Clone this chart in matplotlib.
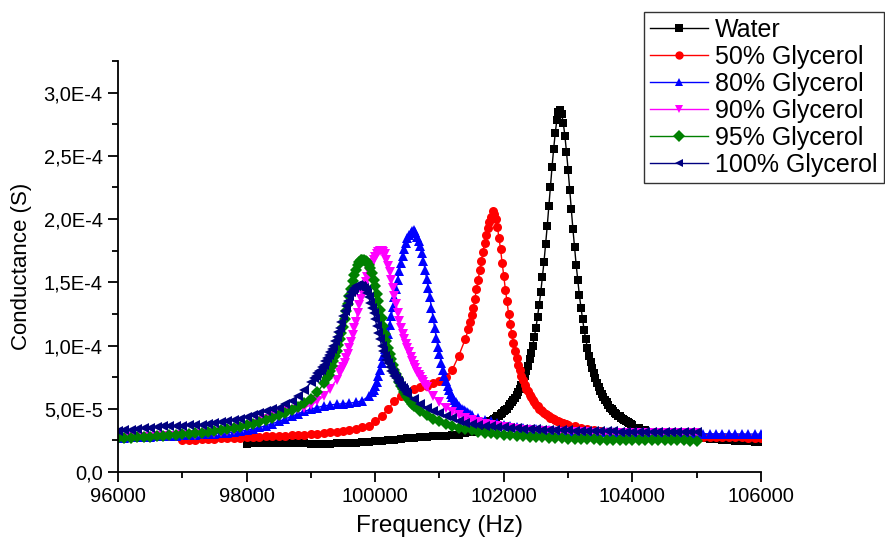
import numpy as np
import matplotlib
matplotlib.use("Agg")
import matplotlib.pyplot as plt
from matplotlib.ticker import MultipleLocator, FuncFormatter
from matplotlib.lines import Line2D

# ---------------- data (conductance in units of 1E-4 S) ----------------
# Water
water_f = np.concatenate([np.arange(98000, 101701, 100),
                          np.arange(101750, 104001, 25),
                          np.arange(104100, 106001, 100)])
water_g = [0.225, 0.228, 0.230, 0.232, 0.233, 0.233, 0.232, 0.230, 0.228, 0.226,
           0.225, 0.224, 0.224, 0.225, 0.226, 0.228, 0.230, 0.233, 0.236, 0.240,
           0.244, 0.248, 0.252, 0.257, 0.262, 0.267, 0.272, 0.276, 0.279, 0.281,
           0.283, 0.286, 0.290, 0.296, 0.305, 0.318, 0.335, 0.360,
           0.39, 0.40, 0.405, 0.413, 0.42, 0.428, 0.44, 0.446, 0.455, 0.466,
           0.48, 0.49, 0.50, 0.518, 0.535, 0.551, 0.57, 0.589, 0.61, 0.635,
           0.66, 0.691, 0.72, 0.759, 0.80, 0.841, 0.89, 0.944, 1.00, 1.07,
           1.14, 1.228, 1.32, 1.422, 1.54, 1.661, 1.80, 1.942, 2.10, 2.252,
           2.41, 2.554, 2.68, 2.784, 2.85, 2.86, 2.83, 2.76, 2.66, 2.53,
           2.39, 2.23, 2.08, 1.92, 1.78, 1.64, 1.52, 1.40, 1.30, 1.21,
           1.12, 1.05, 0.98, 0.92, 0.87, 0.82, 0.78, 0.74, 0.70, 0.67,
           0.64, 0.615, 0.59, 0.57, 0.55, 0.53, 0.51, 0.50, 0.48, 0.47,
           0.46, 0.446, 0.44, 0.426, 0.42, 0.408, 0.40, 0.393, 0.39, 0.379,
           0.37,
           0.35, 0.335, 0.32, 0.31, 0.30, 0.29, 0.286, 0.28, 0.276, 0.27,
           0.265, 0.26, 0.258, 0.255, 0.25, 0.248, 0.245, 0.243, 0.24, 0.24]

# 50% Glycerol
g50_f = np.concatenate([np.arange(97000, 101401, 100),
                        np.arange(101450, 103001, 25),
                        np.arange(103100, 106001, 100)])
g50_g = [0.250, 0.252, 0.255, 0.258, 0.260, 0.262, 0.265, 0.267, 0.270, 0.272,
         0.275, 0.277, 0.280, 0.282, 0.284, 0.286, 0.288, 0.290, 0.293, 0.296,
         0.300, 0.304, 0.308, 0.313, 0.318, 0.325, 0.333, 0.342, 0.352, 0.365,
         0.40, 0.44, 0.50, 0.56, 0.60, 0.63, 0.66, 0.67, 0.68, 0.70,
         0.72, 0.75, 0.81, 0.92, 1.05,
         1.13, 1.185, 1.24, 1.30, 1.37, 1.445, 1.52, 1.595, 1.67, 1.74,
         1.81, 1.875, 1.93, 1.98, 2.02, 2.06,
         2.04, 2.00, 1.94, 1.85, 1.76, 1.65, 1.55, 1.44, 1.35, 1.25,
         1.17, 1.09, 1.02, 0.96, 0.90, 0.85, 0.81, 0.76, 0.73, 0.69,
         0.66, 0.64, 0.61, 0.59, 0.57, 0.55, 0.53, 0.52, 0.50, 0.49,
         0.48, 0.47, 0.46, 0.45, 0.44, 0.43, 0.425, 0.418, 0.41, 0.405,
         0.40, 0.394, 0.39, 0.385, 0.38, 0.376, 0.37,
         0.36, 0.345, 0.34, 0.33, 0.325, 0.32, 0.315, 0.31, 0.307, 0.303,
         0.30, 0.298, 0.295, 0.293, 0.29, 0.288, 0.286, 0.284, 0.282, 0.28,
         0.279, 0.278, 0.277, 0.276, 0.275, 0.274, 0.273, 0.272, 0.271, 0.27]

# 80% Glycerol
g80_f = np.concatenate([np.arange(96000, 99901, 100),
                        np.arange(99950, 101501, 25),
                        np.arange(101600, 106001, 100)])
g80_g = [0.270, 0.272, 0.274, 0.276, 0.278, 0.280, 0.282, 0.284, 0.286, 0.288,
         0.290, 0.292, 0.295, 0.298, 0.300, 0.303, 0.307, 0.311, 0.316, 0.322,
         0.330, 0.340, 0.352, 0.366, 0.382, 0.400, 0.420, 0.440, 0.460, 0.480,
         0.497, 0.510, 0.522, 0.530, 0.536, 0.540, 0.545, 0.550, 0.565, 0.600,
         0.63, 0.65, 0.68, 0.715, 0.76, 0.81, 0.86, 0.915, 0.97, 1.03,
         1.09, 1.16, 1.23, 1.305, 1.38, 1.45, 1.52, 1.59, 1.65, 1.71,
         1.76, 1.81, 1.85, 1.875, 1.89, 1.905, 1.91, 1.895, 1.86, 1.83,
         1.79, 1.735, 1.67, 1.60, 1.53, 1.455, 1.38, 1.30, 1.22, 1.14,
         1.06, 0.99, 0.93, 0.865, 0.81, 0.76, 0.72, 0.68, 0.645, 0.615,
         0.59, 0.568, 0.55, 0.535, 0.52, 0.51, 0.50, 0.49, 0.48, 0.472,
         0.465, 0.457, 0.45,
         0.43, 0.415, 0.40, 0.385,
         0.375, 0.365, 0.355, 0.348, 0.342, 0.337, 0.333, 0.330, 0.327, 0.324,
         0.322, 0.320, 0.318, 0.317, 0.316, 0.315, 0.314, 0.313, 0.312, 0.311,
         0.310, 0.309, 0.308, 0.307, 0.306, 0.306, 0.305, 0.305, 0.304, 0.304,
         0.303, 0.303, 0.302, 0.302, 0.302, 0.301, 0.301, 0.301, 0.300, 0.300,
         0.300]

# 90% Glycerol
g90_f = np.concatenate([np.arange(96000, 99401, 100),
                        np.arange(99450, 100801, 25),
                        np.arange(100900, 105001, 100)])
g90_g = [0.270, 0.272, 0.274, 0.276, 0.278, 0.280, 0.281, 0.283, 0.285, 0.287,
         0.290, 0.293, 0.296, 0.300, 0.305, 0.310, 0.316, 0.323, 0.330, 0.345,
         0.360, 0.380, 0.400, 0.420, 0.440, 0.460, 0.480, 0.490, 0.500, 0.510,
         0.530, 0.560, 0.600, 0.660, 0.730,
         0.78, 0.805, 0.83, 0.862, 0.90, 0.937, 0.98, 1.03, 1.08, 1.135,
         1.19, 1.255, 1.32, 1.37, 1.42, 1.46, 1.50, 1.54, 1.58, 1.617,
         1.65, 1.678, 1.70, 1.722, 1.74, 1.748, 1.75, 1.74, 1.72, 1.68,
         1.63, 1.578, 1.52, 1.455, 1.39, 1.325, 1.26, 1.198, 1.14, 1.093,
         1.05, 1.013, 0.98, 0.945, 0.91, 0.88, 0.85, 0.82, 0.79, 0.77,
         0.75, 0.73, 0.71, 0.69, 0.67,
         0.60,
         0.55, 0.51, 0.475, 0.45, 0.43, 0.41, 0.395, 0.38, 0.37, 0.36,
         0.352, 0.345, 0.340, 0.335, 0.331, 0.328, 0.325, 0.322, 0.320, 0.318,
         0.316, 0.315, 0.314, 0.313, 0.312, 0.311, 0.310, 0.310, 0.309, 0.309,
         0.308, 0.308, 0.307, 0.307, 0.306, 0.306, 0.306, 0.305, 0.305, 0.305,
         0.305]

# 95% Glycerol
g95_f = np.concatenate([np.arange(96000, 99201, 100),
                        np.arange(99250, 100601, 25),
                        np.arange(100700, 105001, 100)])
g95_g = [0.265, 0.268, 0.271, 0.274, 0.277, 0.280, 0.284, 0.288, 0.292, 0.296,
         0.300, 0.304, 0.308, 0.312, 0.317, 0.323, 0.330, 0.338, 0.347, 0.357,
         0.368, 0.380, 0.395, 0.410, 0.430, 0.450, 0.470, 0.490, 0.515, 0.545,
         0.580, 0.630, 0.700,
         0.74, 0.77, 0.80, 0.84, 0.88, 0.92, 0.96, 1.005, 1.05, 1.10,
         1.15, 1.21, 1.27, 1.33, 1.39, 1.45, 1.51, 1.56, 1.60, 1.635,
         1.66, 1.675, 1.68, 1.68, 1.67, 1.66, 1.64, 1.61, 1.57, 1.52,
         1.47, 1.41, 1.35, 1.285, 1.22, 1.155, 1.09, 1.035, 0.98, 0.932,
         0.89, 0.848, 0.81, 0.775, 0.74, 0.71, 0.68, 0.655, 0.63, 0.61,
         0.59, 0.572, 0.555, 0.54, 0.525,
         0.48, 0.45, 0.42,
         0.40, 0.38, 0.365, 0.35, 0.34, 0.33, 0.32, 0.312, 0.305, 0.30,
         0.295, 0.29, 0.286, 0.282, 0.279, 0.276, 0.273, 0.27, 0.268, 0.266,
         0.264, 0.262, 0.26, 0.259, 0.258, 0.257, 0.256, 0.255, 0.254, 0.253,
         0.253, 0.252, 0.252, 0.251, 0.251, 0.25, 0.25, 0.25, 0.25, 0.249,
         0.249]

# 100% Glycerol
g100_f = np.concatenate([np.arange(96000, 99001, 100),
                         np.arange(99050, 100501, 25),
                         np.arange(100600, 105001, 100)])
g100_g = [0.325, 0.330, 0.335, 0.340, 0.345, 0.350, 0.355, 0.360, 0.363, 0.365,
          0.367, 0.369, 0.371, 0.374, 0.378, 0.384, 0.392, 0.400, 0.410, 0.420,
          0.435, 0.450, 0.465, 0.480, 0.495, 0.510, 0.535, 0.565, 0.600, 0.645,
          0.710,
          0.74, 0.76, 0.78, 0.795, 0.81, 0.83, 0.85, 0.875, 0.90, 0.925,
          0.95, 0.975, 1.00, 1.035, 1.07, 1.105, 1.14, 1.185, 1.23, 1.27,
          1.31, 1.35, 1.39, 1.42, 1.44, 1.458, 1.47, 1.475, 1.47, 1.468,
          1.46, 1.452, 1.44, 1.415, 1.38, 1.34, 1.30, 1.255, 1.21, 1.155,
          1.10, 1.05, 1.00, 0.958, 0.92, 0.888, 0.86, 0.83, 0.80, 0.78,
          0.76, 0.74, 0.72, 0.70, 0.68, 0.665, 0.65, 0.635, 0.62,
          0.575, 0.54, 0.51, 0.485,
          0.465, 0.445, 0.425, 0.405, 0.39, 0.38, 0.372, 0.366, 0.36, 0.356,
          0.352, 0.349, 0.346, 0.343, 0.34, 0.338, 0.336, 0.334, 0.332, 0.33,
          0.329, 0.328, 0.326, 0.325, 0.324, 0.323, 0.322, 0.321, 0.32, 0.319,
          0.318, 0.318, 0.317, 0.316, 0.316, 0.315, 0.315, 0.314, 0.314, 0.313,
          0.313]

labels = ["Water", "50% Glycerol", "80% Glycerol", "90% Glycerol",
          "95% Glycerol", "100% Glycerol"]
series_f = [water_f, g50_f, g80_f, g90_f, g95_f, g100_f]
series_g = [water_g, g50_g, g80_g, g90_g, g95_g, g100_g]
colors = ["#000000", "#FF0000", "#0000FF", "#FF00FF", "#008000", "#000080"]
markers = ["s", "o", "^", "v", "D", "<"]
msizes = [5.5, 6.5, 7.0, 7.0, 6.0, 7.0]

x_ticks = [96000, 98000, 100000, 102000, 104000, 106000]

# ---------------- plot ----------------
plt.rcParams['font.family'] = ['Liberation Sans', 'DejaVu Sans']
fig = plt.figure(figsize=(8.85, 5.39), dpi=100)
ax = fig.add_axes([0.1333, 0.1243, 0.7266, 0.7625])

handles = []
for f, g, c, m, ms, lab in zip(series_f, series_g, colors, markers, msizes, labels):
    f = np.asarray(f)
    g = np.asarray(g) * 1e-4
    assert len(f) == len(g), (lab, len(f), len(g))
    ax.plot(f, g, color=c, marker=m, markersize=ms, linewidth=1.0,
            markeredgewidth=0, label=lab)
    handles.append(Line2D([0], [0], color=c, marker=m, markersize=6,
                          linewidth=1.0, markeredgewidth=0))

ax.set_xlim(96000, 106000)
ax.set_ylim(0, 3.25e-4)
ax.set_xticks(x_ticks)
ax.set_xticklabels([str(t) for t in x_ticks])
ax.xaxis.set_minor_locator(MultipleLocator(1000))
ax.yaxis.set_major_locator(MultipleLocator(5e-5))
ax.yaxis.set_minor_locator(MultipleLocator(2.5e-5))


def yfmt(v, pos):
    if abs(v) < 1e-12:
        return "0,0"
    mant, ex = f"{v:.1E}".split("E")
    return f"{mant.replace('.', ',')}E{int(ex)}"


ax.yaxis.set_major_formatter(FuncFormatter(yfmt))

for s in ["top", "right"]:
    ax.spines[s].set_visible(False)
for s in ["left", "bottom"]:
    ax.spines[s].set_linewidth(1.3)
ax.tick_params(which="major", direction="out", length=7, width=1.3,
               labelsize=14.5, pad=4)
ax.tick_params(which="minor", direction="out", length=4, width=1.3)

ax.set_xlabel("Frequency (Hz)", fontsize=17.5, labelpad=6)
ax.set_ylabel("Conductance (S)", fontsize=16, labelpad=8)

leg = fig.legend(handles, labels, loc="upper right",
                 bbox_to_anchor=(0.9989, 0.978), fontsize=18,
                 frameon=True, fancybox=False, edgecolor="black",
                 handlelength=2.3, handletextpad=0.3, labelspacing=0.12,
                 borderpad=0.25, borderaxespad=0.0)
leg.get_frame().set_linewidth(1.0)

fig.savefig("out.png", dpi=100)
